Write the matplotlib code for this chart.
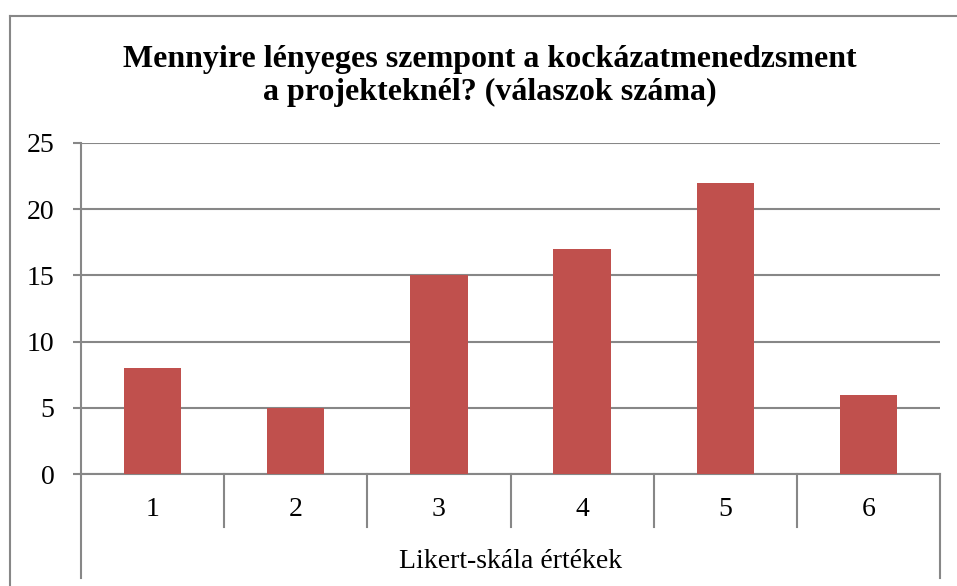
import matplotlib.pyplot as plt
import numpy as np

# Data
categories = ['1', '2', '3', '4', '5', '6']
answers = [8, 5, 15, 17, 22, 6]
y_ticks = [0, 5, 10, 15, 20, 25]
group_label = 'Likert-skála értékek'
title = 'Mennyire lényeges szempont a kockázatmenedzsment\na projekteknél? (válaszok száma)'

plt.rcParams['font.family'] = ['Liberation Serif', 'DejaVu Serif']

grid_color = '#878787'
bar_color = '#C0504D'

fig = plt.figure(figsize=(9.57, 5.86), dpi=100)
W, H = 957, 586

# outer chart frame (only top and left edge are inside the picture)
fig.add_artist(plt.Line2D([9.5 / W, 9.5 / W], [0, 1 - 15.5 / H], color=grid_color, lw=1.5))
fig.add_artist(plt.Line2D([9.5 / W, 1], [1 - 15.5 / H, 1 - 15.5 / H], color=grid_color, lw=1.5))

left, right, top, bottom = 81, 940, 143, 474
ax = fig.add_axes([left / W, 1 - bottom / H, (right - left) / W, (bottom - top) / H])

x = np.arange(1, len(categories) + 1)
ax.bar(x, answers, width=0.4, color=bar_color, zorder=3)

ax.set_xlim(0.5, len(categories) + 0.5)
ax.set_ylim(0, 25)
ax.set_yticks(y_ticks)
ax.set_yticklabels([str(t) for t in y_ticks], fontsize=20)
ax.yaxis.grid(True, color=grid_color, lw=1.5, zorder=0)
ax.tick_params(axis='y', length=6, width=1.5, color=grid_color, pad=13)
ax.set_xticks([])

for side in ['top', 'right']:
    ax.spines[side].set_visible(False)
for side in ['left', 'bottom']:
    ax.spines[side].set_color(grid_color)
    ax.spines[side].set_linewidth(1.5)

# multi-level category axis drawn under the plot
ax_h = bottom - top
trans = ax.get_xaxis_transform()
inner = -53 / ax_h
outer = -104 / ax_h
for b in np.arange(0.5, len(categories) + 1, 1.0):
    end = outer if b in (0.5, len(categories) + 0.5) else inner
    ax.plot([b, b], [0, end], transform=trans, color=grid_color, lw=1.5, clip_on=False)

for xi, lab in zip(x, categories):
    ax.text(xi, -36 / ax_h, lab, transform=trans, ha='center', va='center', fontsize=20)
ax.text((len(categories) + 1) / 2, -88 / ax_h, group_label, transform=trans,
        ha='center', va='center', fontsize=20)

fig.text(489.5 / W, 1 - 76 / H, title, ha='center', va='center',
         fontsize=23, fontweight='bold', linespacing=1.15)

fig.savefig('out.png', dpi=100)
